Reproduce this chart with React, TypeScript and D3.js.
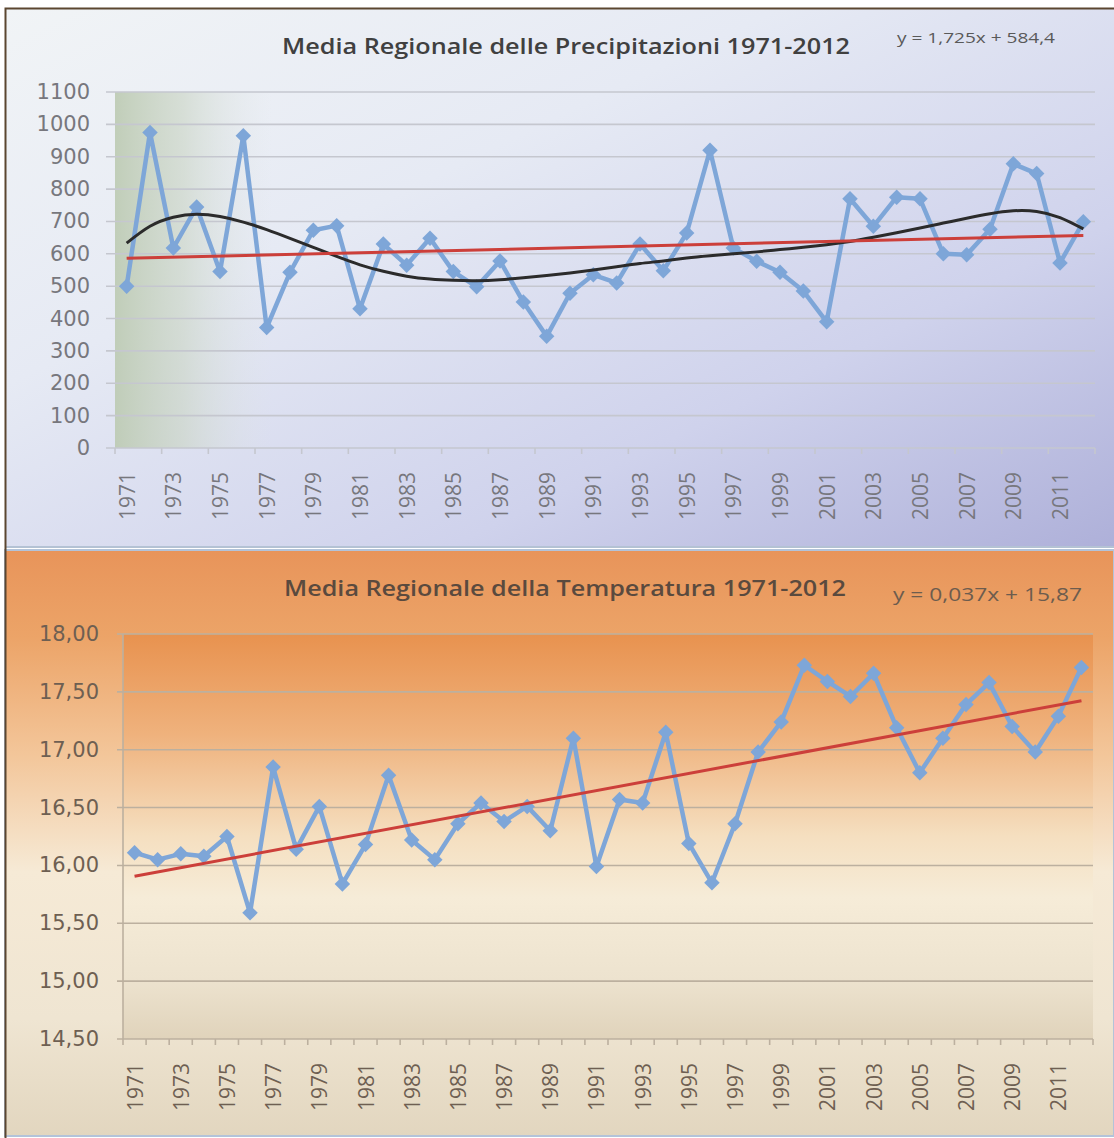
import * as d3 from 'd3';
import { useRef, useEffect } from 'react';

// categories + values
const years: string[] = d3.range(1971, 2013).map(String);

const precipitation = [
	500, 975, 618, 745, 545, 965, 372, 543, 673, 687, 430, 630, 565, 648,
	545, 498, 578, 451, 345, 478, 535, 510, 630, 548, 664, 920, 618, 577,
	543, 485, 390, 770, 685, 775, 770, 600, 597, 676, 878, 848, 572, 699,
];

// polynomial trend of the precipitation, as drawn in the picture
const precipPoly = [
	633, 685, 713, 722, 715, 698, 675, 648, 620, 592, 566, 546, 531, 522,
	518, 517, 520, 526, 533, 541, 550, 560, 570, 578, 587, 594, 600, 606,
	613, 620, 628, 638, 651, 665, 680, 695, 710, 724, 733, 731, 712, 677,
];

const temperature = [
	16.11, 16.05, 16.10, 16.08, 16.25, 15.59, 16.85, 16.14, 16.51, 15.84, 16.18, 16.78, 16.22, 16.05,
	16.36, 16.54, 16.38, 16.51, 16.30, 17.10, 15.99, 16.57, 16.54, 17.15, 16.19, 15.85, 16.36, 16.98,
	17.24, 17.73, 17.59, 17.46, 17.66, 17.19, 16.80, 17.10, 17.39, 17.58, 17.20, 16.98, 17.29, 17.71,
];

const precipTicks = [0, 100, 200, 300, 400, 500, 600, 700, 800, 900, 1000, 1100];
const tempTicks = [14.5, 15, 15.5, 16, 16.5, 17, 17.5, 18];

// linear trend equations shown on the charts
const precipTrend = { slope: 1.725, intercept: 584.4 };
const tempTrend = { slope: 0.037, intercept: 15.87 };

const itNum = (d: number) => d3.format(".2f")(d).replace(".", ",");

const drawChart = (svg: any, c: any) => {
	const x = d3.scaleBand().domain(years).range([c.left, c.right]);
	const y = d3.scaleLinear().domain(c.yDomain).range([c.bottom, c.top]);
	const cx = (i: number) => (x(years[i]) as number) + x.bandwidth() / 2;

	const g = svg.append("g");

	// gridlines + y labels
	c.yTicks.forEach((t: number) => {
		g.append("line")
			.attr("x1", c.left - c.tickOut).attr("x2", c.right)
			.attr("y1", y(t)).attr("y2", y(t))
			.attr("stroke", c.gridColor).attr("stroke-width", 1.6);
		g.append("text")
			.attr("x", c.left - c.labelGap).attr("y", y(t))
			.attr("text-anchor", "end").attr("dominant-baseline", "central")
			.attr("font-family", "DejaVu Sans").attr("font-size", 21)
			.attr("fill", c.textColor)
			.text(c.yFormat(t));
	});

	if (c.yAxisLine) {
		g.append("line")
			.attr("x1", c.left).attr("x2", c.left)
			.attr("y1", c.top).attr("y2", c.bottom)
			.attr("stroke", c.gridColor).attr("stroke-width", 1.6);
	}

	// x ticks
	for (let i = 0; i <= years.length; i += c.tickEvery) {
		const xx = c.left + i * x.bandwidth();
		g.append("line")
			.attr("x1", xx).attr("x2", xx)
			.attr("y1", c.bottom).attr("y2", c.bottom + 6)
			.attr("stroke", c.gridColor).attr("stroke-width", 1.6);
	}

	// x labels, every other year
	years.forEach((yr, i) => {
		if (i % 2) return;
		g.append("text")
			.attr("transform", "translate(" + cx(i) + "," + (c.bottom + 24) + ") rotate(-90)")
			.attr("text-anchor", "end").attr("dominant-baseline", "central")
			.attr("font-family", "Open Sans").attr("font-size", 21)
			.attr("fill", c.textColor)
			.text(yr);
	});

	// data line
	const line = d3.line<number>().x((d, i) => cx(i)).y(d => y(d));
	g.append("path")
		.attr("d", line(c.values))
		.attr("fill", "none").attr("stroke", "#7ea6d8")
		.attr("stroke-width", 4.5).attr("stroke-linejoin", "round");

	const diamond = d3.symbol().type(d3.symbolSquare).size(120);
	g.selectAll("path.pt")
		.data(c.values)
		.enter()
		.append("path")
		.attr("class", "pt")
		.attr("d", diamond())
		.attr("transform", (d: number, i: number) => "translate(" + cx(i) + "," + y(d) + ") rotate(45)")
		.attr("fill", "#7ea6d8");

	// polynomial trend
	if (c.poly) {
		const curve = d3.line<number>().x((d, i) => cx(i)).y(d => y(d)).curve(d3.curveNatural);
		g.append("path")
			.attr("d", curve(c.poly))
			.attr("fill", "none").attr("stroke", "#2b2b2b").attr("stroke-width", 3);
	}

	// linear trend
	const n = years.length;
	g.append("line")
		.attr("x1", cx(0)).attr("y1", y(c.trend.slope * 1 + c.trend.intercept))
		.attr("x2", cx(n - 1)).attr("y2", y(c.trend.slope * n + c.trend.intercept))
		.attr("stroke", "#cc3f3a").attr("stroke-width", 3);

	// title + equation
	g.append("text")
		.attr("x", c.titleX).attr("y", c.titleY)
		.attr("font-family", "Open Sans").attr("font-weight", 600).attr("font-size", 22)
		.attr("textLength", c.titleLen).attr("lengthAdjust", "spacingAndGlyphs")
		.attr("fill", c.titleColor)
		.text(c.title);
	g.append("text")
		.attr("x", c.eqX).attr("y", c.eqY)
		.attr("font-family", "Open Sans").attr("font-size", c.eqSize)
		.attr("textLength", c.eqLen).attr("lengthAdjust", "spacingAndGlyphs")
		.attr("fill", c.eqColor)
		.text(c.equation);
};

const App = () => {
	const ref: any = useRef();

	useEffect(() => {
		const svg = d3.select(ref.current);
		svg.selectAll("*").remove();

		const defs = svg.append("defs");
		const grad = (id: string, x2: string, y2: string, stops: [string, string, number?][]) => {
			const lg = defs.append("linearGradient").attr("id", id)
				.attr("x1", "0").attr("y1", "0").attr("x2", x2).attr("y2", y2);
			stops.forEach(s => lg.append("stop").attr("offset", s[0]).attr("stop-color", s[1])
				.attr("stop-opacity", s[2] === undefined ? 1 : s[2]));
		};
		grad("topBg", "1", "1", [["0", "#f1f4f6"], ["0.35", "#e6eaf4"], ["0.7", "#cfd2ec"], ["1", "#aeb0d9"]]);
		grad("topGreen", "1", "0", [["0", "#bccab2", 0.9], ["0.07", "#cbd5c6", 0.65], ["0.16", "#dfe5e6", 0]]);
		grad("botBg", "0", "1", [["0", "#e8945a"], ["0.15", "#eca468"], ["0.35", "#f3c69a"], ["0.55", "#f6ead6"], ["0.8", "#efe5d2"], ["1", "#e2d6bf"]]);
		grad("botPlot", "0", "1", [["0", "#e8924f"], ["0.25", "#efb27d"], ["0.5", "#f5dfc0"], ["0.65", "#f6ecd8"], ["0.85", "#ede3cf"], ["1", "#e0d3bb"]]);

		svg.append("rect").attr("width", 1114).attr("height", 1138).attr("fill", "#ffffff");

		// top panel
		svg.append("rect").attr("x", 5).attr("y", 8).attr("width", 1109).attr("height", 539).attr("fill", "url(#topBg)");
		svg.append("rect").attr("x", 115).attr("y", 92).attr("width", 980).attr("height", 356).attr("fill", "url(#topGreen)");
		svg.append("line").attr("x1", 5).attr("x2", 1114).attr("y1", 547).attr("y2", 547).attr("stroke", "#b4c2d4").attr("stroke-width", 2);

		// bottom panel
		svg.append("rect").attr("x", 5).attr("y", 550).attr("width", 1109).attr("height", 586).attr("fill", "url(#botBg)")
			.attr("stroke", "#b3c3d9").attr("stroke-width", 2);
		svg.append("rect").attr("x", 123).attr("y", 634).attr("width", 970).attr("height", 405).attr("fill", "url(#botPlot)");

		// dark outer frame
		svg.append("path").attr("d", "M5.5,1138 V8.5 H1114").attr("fill", "none").attr("stroke", "#5b4630").attr("stroke-width", 2);

		drawChart(svg, {
			left: 115, right: 1095, top: 92, bottom: 448,
			yDomain: [0, 1100], yTicks: precipTicks, yFormat: (d: number) => String(d),
			values: precipitation, poly: precipPoly, trend: precipTrend,
			tickEvery: 2, tickOut: 9, labelGap: 25, yAxisLine: false,
			gridColor: "#c5c7cf", textColor: "#77777d",
			title: "Media Regionale delle Precipitazioni 1971-2012", titleX: 282, titleY: 54, titleLen: 568, titleColor: "#404040",
			equation: "y = 1,725x + 584,4", eqX: 897, eqY: 43, eqLen: 158, eqSize: 15, eqColor: "#595959",
		});

		drawChart(svg, {
			left: 123, right: 1093, top: 634, bottom: 1039,
			yDomain: [14.5, 18], yTicks: tempTicks, yFormat: itNum,
			values: temperature, poly: null, trend: tempTrend,
			tickEvery: 1, tickOut: 6, labelGap: 24, yAxisLine: true,
			gridColor: "#bcb09f", textColor: "#6e5f52",
			title: "Media Regionale della Temperatura 1971-2012", titleX: 284, titleY: 596, titleLen: 562, titleColor: "#5a4a3e",
			equation: "y = 0,037x + 15,87", eqX: 893, eqY: 601, eqLen: 189, eqSize: 19, eqColor: "#6d5c4e",
		});
	}, []);

	return (
		<svg ref={ref} width={1114} height={1138} style={{ position: "absolute", left: 0, top: 0 }}>
		</svg>
	);
};

export default App;
